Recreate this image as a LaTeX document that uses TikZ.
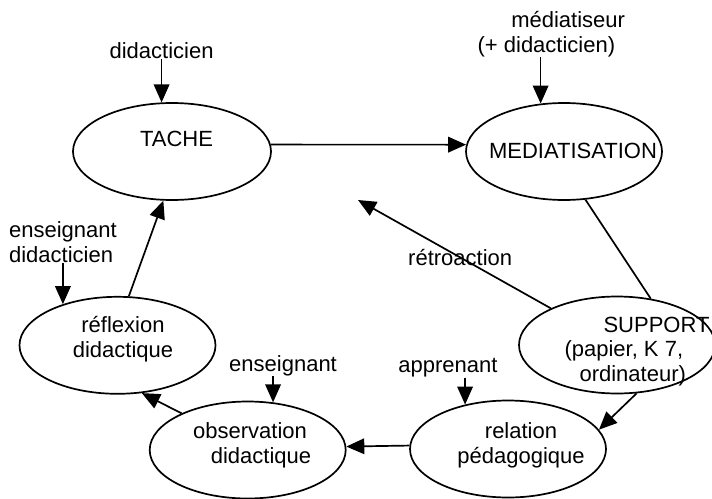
\documentclass[tikz,border=0pt]{standalone}
\usepackage{fontspec}
\setmainfont{Liberation Sans}
\usetikzlibrary{arrows.meta,shapes.geometric,positioning}
\tikzstyle{ell}=[
	ellipse,
	draw=black,
	line width=0.85pt,
	minimum width=98pt,
	minimum height=48.5pt,
	inner sep=0pt
]
\tikzstyle{txt}=[
	font=\fontsize{11}{12.3}\selectfont,
	inner sep=0pt
]
\tikzstyle{arr}=[
	-{Triangle[length=9pt,width=7.8pt]},
	line width=0.85pt,
	draw=black
]
\tikzstyle{edge}=[
	-,
	line width=0.85pt,
	draw=black
]
\begin{document}
\begin{tikzpicture}[x=0.5pt,y=-0.5pt]
\useasboundingbox (0,0) rectangle (712,498);
\node[ell, minimum width=99pt, label={[txt,xshift=2.25pt,yshift=6.4pt]center:TACHE}] (tache) at (172,151.5) {};
\node[ell, label={[txt,xshift=4.5pt,yshift=0.5pt]center:MEDIATISATION}] (media) at (564,151.5) {};
\node[ell, label={[txt,align=left,xshift=10pt,yshift=-3.25pt]center:{\hspace*{19.5pt}SUPPORT\\(papier, K 7,\\\hspace*{7.5pt}ordinateur)}}] (support) at (617,345) {};
\node[ell, label={[txt,align=center,xshift=6.5pt,yshift=1.7pt]center:{relation\\pédagogique}}] (rel) at (508,449) {};
\node[ell, label={[txt,align=center,xshift=1.15pt,yshift=2.45pt]center:{observation\\\hspace*{11pt}didactique}}] (obs) at (247.7,450) {};
\node[ell, label={[txt,align=center,xshift=2.75pt,yshift=3pt]center:{réflexion\\didactique}}] (reflex) at (117.5,345.3) {};

\node[txt, above=21.5pt of tache.102] (didac) {didacticien};
\node[txt, align=left, above=23.2pt of media.116, xshift=5.35pt] (mediat) {\hspace*{16.85pt}médiatiseur\\(+ didacticien)};
\node[txt, align=left, above=20.75pt of reflex.143] (ensdid) {enseignant\\didacticien};
\node[txt, above=13pt of obs.62, xshift=5pt] (ens) {enseignant};
\node[txt, above=13.5pt of rel.134, xshift=-8.6pt] (appr) {apprenant};
\coordinate (rtip) at (358,200);

\draw[arr] (tache.4) -- (media.176);
\draw[edge] (media.294) -- (support.54);
\draw[arr] (support.151) -- node[txt, pos=0.47] (retro) {rétroaction} (rtip);
\draw[arr] (support.292) -- (rel.12);
\draw[arr] (rel.178) -- (obs.2);
\draw[arr] (obs.151) -- (reflex.297);
\draw[arr] (reflex.77) -- (tache.260);

\draw[arr] (didac.south) -- (tache.102);
\draw[arr] (mediat.south -| media.116) -- (media.116);
\draw[arr] (ensdid.south) -- (reflex.143);
\draw[arr] (ens.south -| obs.62) -- (obs.62);
\draw[arr] (appr.south -| rel.134) -- (rel.134);
\end{tikzpicture}
\end{document}
